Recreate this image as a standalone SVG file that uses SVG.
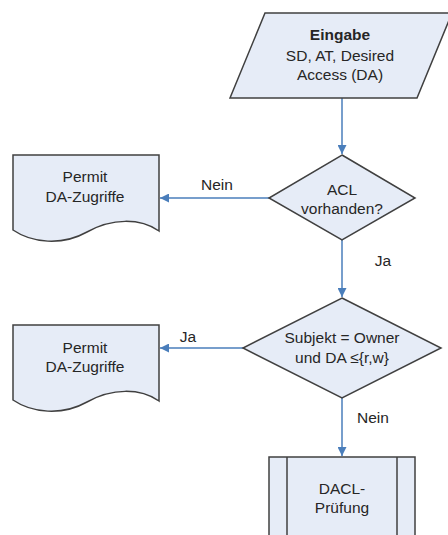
<svg xmlns="http://www.w3.org/2000/svg" width="448" height="535" viewBox="0 0 448 535">
  <style>
    .shape { fill: #E6ECF7; stroke: #404040; stroke-width: 1.5; }
    .edge { fill: none; stroke: #4A7EBB; stroke-width: 1.5; }
    text { font-family: "Liberation Sans", Arial, sans-serif; font-size: 15.5px; fill: #262626; text-anchor: middle; }
    .bold { font-weight: bold; }
  </style>
  <defs>
    <marker id="arrow" viewBox="0 0 10 10" refX="10" refY="5" markerWidth="6" markerHeight="6" orient="auto" markerUnits="strokeWidth">
      <path d="M0,0 L10,5 L0,10 Z" fill="#4A7EBB"/>
    </marker>
  </defs>
  <rect width="448" height="535" fill="#FFFFFF"/>

  <g id="connectors">
    <line class="edge" x1="342" y1="98" x2="342" y2="154" marker-end="url(#arrow)"/>
    <line class="edge" x1="269" y1="198" x2="160" y2="198" marker-end="url(#arrow)"/>
    <line class="edge" x1="342" y1="240" x2="342" y2="297" marker-end="url(#arrow)"/>
    <line class="edge" x1="243" y1="348" x2="160" y2="348" marker-end="url(#arrow)"/>
    <line class="edge" x1="342" y1="398" x2="342" y2="456" marker-end="url(#arrow)"/>
    <text x="217" y="190">Nein</text>
    <text x="383" y="266">Ja</text>
    <text x="188" y="342">Ja</text>
    <text x="373" y="423">Nein</text>
  </g>

  <g id="input">
    <path class="shape" d="M265,13 L452,13 L417,98 L230,98 Z"/>
    <text x="340" y="40" class="bold">Eingabe</text>
    <text x="340" y="61">SD, AT, Desired</text>
    <text x="340" y="80">Access (DA)</text>
  </g>

  <g id="acl-decision">
    <path class="shape" d="M342,155 L415,198 L342,240 L269,198 Z"/>
    <text x="342" y="195">ACL</text>
    <text x="342" y="214">vorhanden?</text>
  </g>

  <g id="permit-1">
    <path class="shape" d="M13,155 L159,155 L159,231 C140,218 112,218 87,232 C62,246 32,243 13,230 Z"/>
    <text x="85" y="182">Permit</text>
    <text x="85" y="202">DA-Zugriffe</text>
  </g>

  <g id="owner-decision">
    <path class="shape" d="M342,298 L441,348 L342,398 L243,348 Z"/>
    <text x="342" y="343">Subjekt = Owner</text>
    <text x="342" y="363">und DA ≤{r,w}</text>
  </g>

  <g id="permit-2">
    <path class="shape" d="M13,325 L159,325 L159,401 C140,388 112,388 87,402 C62,416 32,413 13,400 Z"/>
    <text x="85" y="353">Permit</text>
    <text x="85" y="372">DA-Zugriffe</text>
  </g>

  <g id="dacl-check">
    <rect class="shape" x="269" y="457" width="146" height="100"/>
    <line class="shape" x1="287" y1="457" x2="287" y2="557"/>
    <line class="shape" x1="397" y1="457" x2="397" y2="557"/>
    <text x="342" y="494">DACL-</text>
    <text x="342" y="513">Prüfung</text>
  </g>
</svg>
